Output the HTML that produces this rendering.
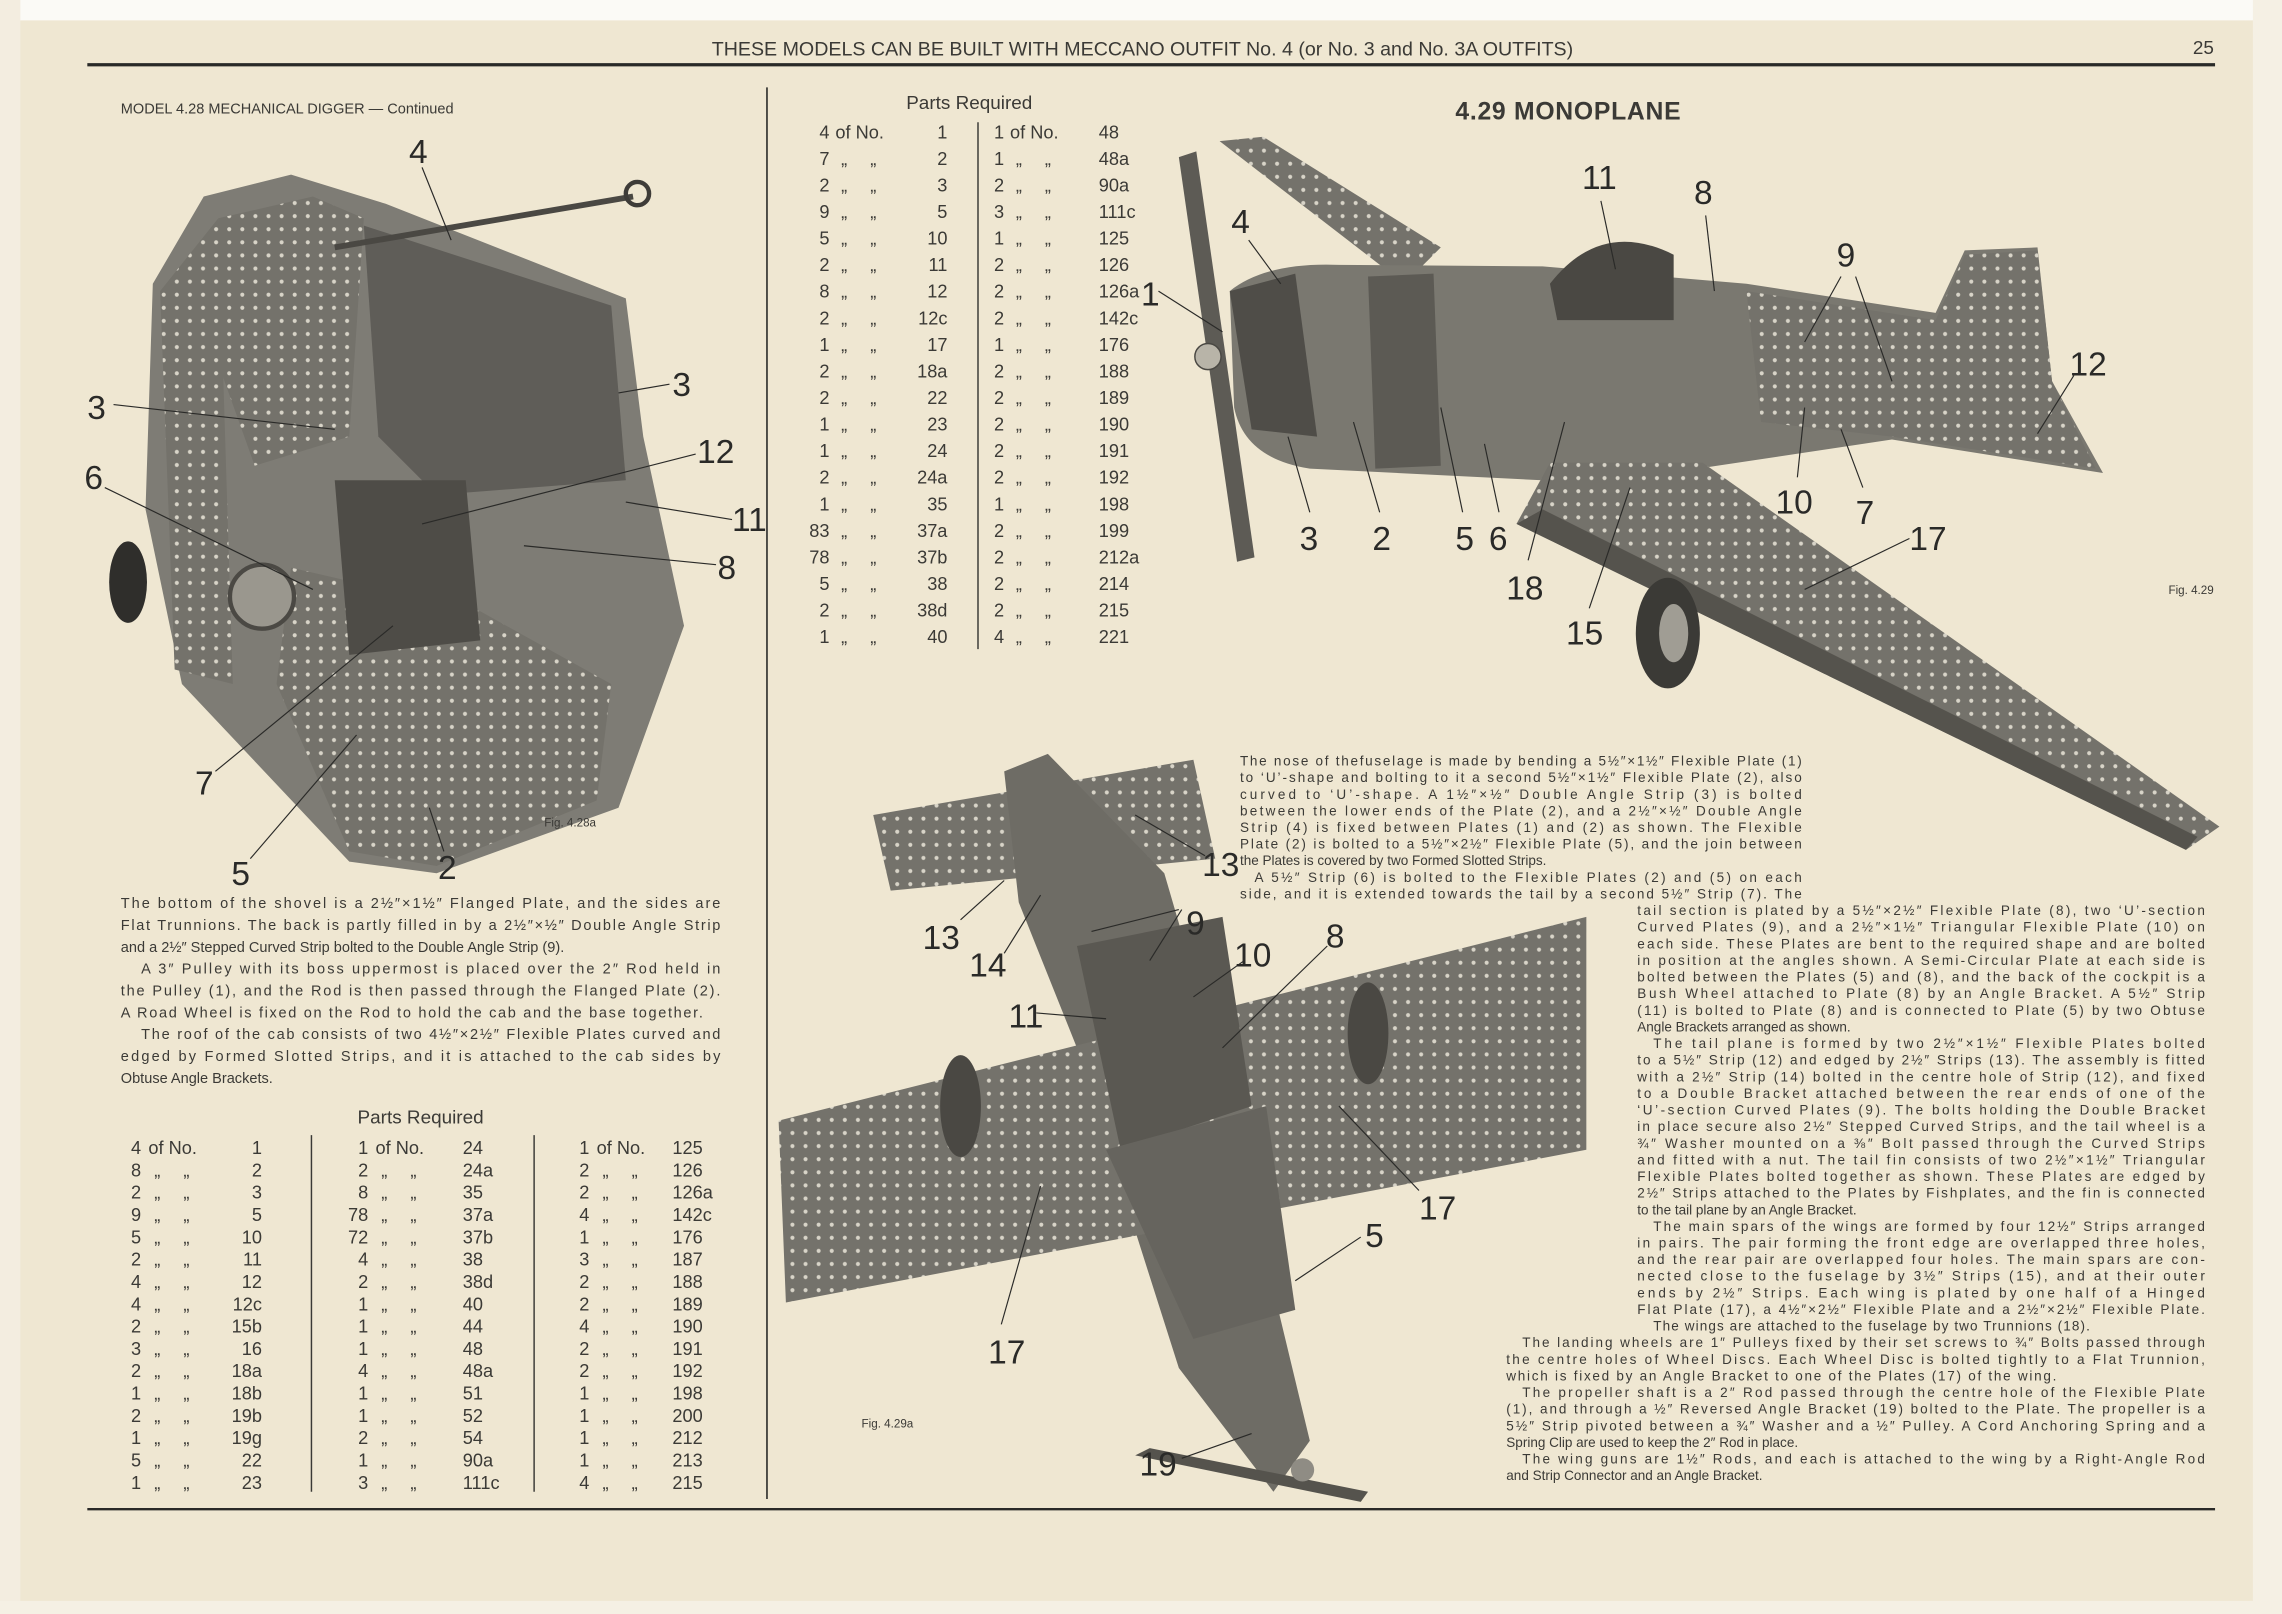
<!DOCTYPE html>
<html><head><meta charset="utf-8"><style>
html,body{margin:0;padding:0;background:#efe7d2;}
svg{display:block}
text{font-family:"Liberation Sans",sans-serif;fill:#3b3a36}
.t{font-size:9.3px}
.p{font-size:10px}
.tb{font-size:12.5px}
.lb{font-size:23px;fill:#2a2a28}
</style></head><body>
<svg width="2282" height="1614" viewBox="0 0 1568 1109" preserveAspectRatio="none" xmlns="http://www.w3.org/2000/svg">
<defs>
<pattern id="holes" width="9" height="9" patternUnits="userSpaceOnUse"><rect width="9" height="9" fill="#74726b"/><circle cx="4.5" cy="4.5" r="1.4" fill="#d8d4c8"/></pattern>
</defs>
<rect x="0" y="0" width="1568" height="1109" fill="#efe7d2"/>
<rect x="0" y="0" width="1568" height="14" fill="#fbfaf6"/>
<rect x="0" y="0" width="14" height="1109" fill="#f3ede0"/>
<rect x="1548" y="0" width="20" height="1109" fill="#f5f0e4"/>
<rect x="0" y="1100" width="1568" height="9" fill="#f5f0e4"/>

<text x="785" y="38" text-anchor="middle" style="font-size:13.5px">THESE MODELS CAN BE BUILT WITH MECCANO OUTFIT No. 4 (or No. 3 and No. 3A OUTFITS)</text>
<text x="1514" y="37" text-anchor="middle" style="font-size:13px">25</text>
<line x1="60" y1="44.5" x2="1522" y2="44.5" stroke="#2a2a28" stroke-width="2.2"/>
<line x1="527" y1="60" x2="527" y2="1030" stroke="#3a3a36" stroke-width="1.2"/>
<line x1="60" y1="1037" x2="1522" y2="1037" stroke="#2a2a28" stroke-width="1.6"/>

<text x="83" y="78" style="font-size:10px">MODEL 4.28   MECHANICAL DIGGER — Continued</text>
<text x="1000" y="82" style="font-size:17px;font-weight:bold;letter-spacing:0.5px">4.29  MONOPLANE</text>

<g>
<polygon points="105,195 140,135 200,120 265,140 430,205 442,300 470,430 425,555 300,600 240,592 125,470 100,350" fill="#7e7c75"/>
<polygon points="150,150 215,135 250,150 240,300 175,320 150,250" fill="url(#holes)"/>
<polygon points="110,200 150,150 160,470 120,460" fill="url(#holes)"/>
<polygon points="250,155 420,210 430,330 300,340 260,300" fill="#5f5d58"/>
<polygon points="200,390 330,420 420,470 410,550 300,595 240,585 190,470" fill="url(#holes)"/>
<polygon points="230,330 320,330 330,440 240,450" fill="#4e4c47"/>
<line x1="230" y1="170" x2="435" y2="135" stroke="#4a4843" stroke-width="4"/>
<circle cx="438" cy="133" r="8" fill="none" stroke="#3e3c38" stroke-width="3"/>
<circle cx="180" cy="410" r="22" fill="#9a978e" stroke="#4b4944" stroke-width="3"/>
<ellipse cx="88" cy="400" rx="13" ry="28" fill="#2f2e2b"/>
</g>
<g stroke="#2a2a28" stroke-width="0.8">
<line x1="290" y1="115" x2="310" y2="165"/><line x1="78" y1="278" x2="230" y2="295"/>
<line x1="460" y1="264" x2="425" y2="270"/><line x1="478" y1="312" x2="290" y2="360"/>
<line x1="72" y1="335" x2="215" y2="405"/><line x1="503" y1="357" x2="430" y2="345"/>
<line x1="492" y1="388" x2="360" y2="375"/><line x1="148" y1="530" x2="270" y2="430"/>
<line x1="172" y1="590" x2="245" y2="505"/><line x1="305" y1="585" x2="295" y2="555"/>
</g>
<g>
<text x="281" y="112" class="lb">4</text><text x="60" y="288" class="lb">3</text><text x="462" y="272" class="lb">3</text>
<text x="479" y="318" class="lb">12</text><text x="58" y="336" class="lb">6</text><text x="503" y="365" class="lb">11</text>
<text x="493" y="398" class="lb">8</text><text x="134" y="546" class="lb">7</text><text x="159" y="608" class="lb">5</text>
<text x="301" y="604" class="lb">2</text>
</g>
<text x="374" y="568" style="font-size:8px">Fig. 4.28a</text>

<g class="p">
<text x="83" y="624" textLength="412" lengthAdjust="spacing">The bottom of the shovel is a 2½″×1½″ Flanged Plate, and the sides are</text>
<text x="83" y="639" textLength="412" lengthAdjust="spacing">Flat Trunnions. The back is partly filled in by a 2½″×½″ Double Angle Strip</text>
<text x="83" y="654">and a 2½″ Stepped Curved Strip bolted to the Double Angle Strip (9).</text>
<text x="97" y="669" textLength="398" lengthAdjust="spacing">A 3″ Pulley with its boss uppermost is placed over the 2″ Rod held in</text>
<text x="83" y="684" textLength="412" lengthAdjust="spacing">the Pulley (1), and the Rod is then passed through the Flanged Plate (2).</text>
<text x="83" y="699" textLength="400" lengthAdjust="spacing">A Road Wheel is fixed on the Rod to hold the cab and the base together.</text>
<text x="97" y="714" textLength="398" lengthAdjust="spacing">The roof of the cab consists of two 4½″×2½″ Flexible Plates curved and</text>
<text x="83" y="729" textLength="412" lengthAdjust="spacing">edged by Formed Slotted Strips, and it is attached to the cab sides by</text>
<text x="83" y="744">Obtuse Angle Brackets.</text>
</g>

<text x="289" y="772" text-anchor="middle" style="font-size:13px">Parts Required</text>
<line x1="214" y1="780" x2="214" y2="1025" stroke="#3a3a36" stroke-width="1"/>
<line x1="367" y1="780" x2="367" y2="1025" stroke="#3a3a36" stroke-width="1"/>
<g class="tb" id="t1"></g>

<text x="666" y="75" text-anchor="middle" style="font-size:13px">Parts Required</text>
<line x1="672" y1="84" x2="672" y2="446" stroke="#3a3a36" stroke-width="1"/>
<g class="tb" id="t2"></g>

<g>
<polygon points="838,97 868,94 990,170 965,195" fill="url(#holes)"/>
<path d="M845,200 Q870,180 920,182 L1060,183 L1200,195 L1330,215 L1350,172 L1400,170 L1410,262 L1445,325 L1300,302 L1100,332 L900,322 Q855,315 848,280 Z" fill="#7a7870"/>
<polygon points="1200,200 1330,220 1350,175 1400,172 1410,262 1440,322 1300,300 1210,290" fill="url(#holes)"/>
<polygon points="845,200 890,188 905,300 860,295" fill="#4f4d48"/>
<polygon points="940,190 985,188 990,320 945,322" fill="#5c5a54"/>
<path d="M1065,195 Q1100,150 1150,175 L1150,220 L1070,220 Z" fill="#4a4843"/>
<polygon points="1065,318 1170,318 1525,568 1502,584 1042,360" fill="url(#holes)"/>
<polygon points="1060,350 1510,575 1502,584 1042,360" fill="#55534d"/>
<polygon points="810,108 822,104 862,383 850,386" fill="#5d5b55"/>
<circle cx="830" cy="245" r="9" fill="#b8b4a8" stroke="#4a4843"/>
<ellipse cx="1146" cy="435" rx="22" ry="38" fill="#3b3a36"/>
<ellipse cx="1150" cy="435" rx="10" ry="20" fill="#a09d94"/>
</g>
<g stroke="#2a2a28" stroke-width="0.8">
<line x1="1100" y1="138" x2="1110" y2="185"/><line x1="1172" y1="148" x2="1178" y2="200"/>
<line x1="858" y1="165" x2="880" y2="195"/><line x1="1265" y1="190" x2="1240" y2="235"/>
<line x1="1275" y1="190" x2="1300" y2="262"/><line x1="796" y1="200" x2="840" y2="228"/>
<line x1="1425" y1="258" x2="1400" y2="298"/><line x1="900" y1="352" x2="885" y2="300"/>
<line x1="948" y1="352" x2="930" y2="290"/><line x1="1005" y1="352" x2="990" y2="280"/>
<line x1="1030" y1="352" x2="1020" y2="305"/><line x1="1235" y1="328" x2="1240" y2="280"/>
<line x1="1280" y1="335" x2="1265" y2="295"/><line x1="1312" y1="370" x2="1240" y2="405"/>
<line x1="1050" y1="385" x2="1075" y2="290"/><line x1="1092" y1="418" x2="1120" y2="335"/>
</g>
<g>
<text x="1087" y="130" class="lb">11</text><text x="1164" y="140" class="lb">8</text><text x="846" y="160" class="lb">4</text>
<text x="1262" y="183" class="lb">9</text><text x="784" y="210" class="lb">1</text><text x="1422" y="258" class="lb">12</text>
<text x="893" y="378" class="lb">3</text><text x="943" y="378" class="lb">2</text><text x="1000" y="378" class="lb">5</text>
<text x="1023" y="378" class="lb">6</text><text x="1220" y="353" class="lb">10</text><text x="1275" y="360" class="lb">7</text>
<text x="1312" y="378" class="lb">17</text><text x="1035" y="412" class="lb">18</text><text x="1076" y="443" class="lb">15</text>
</g>
<text x="1490" y="408" style="font-size:8px">Fig. 4.29</text>

<g>
<polygon points="600,560 820,522 835,590 612,612" fill="url(#holes)"/>
<polygon points="690,530 720,518 800,600 835,720 900,990 875,1025 810,940 740,720 700,620" fill="#6e6c65"/>
<polygon points="535,770 1090,630 1090,790 540,895" fill="url(#holes)"/>
<polygon points="740,650 840,630 860,760 770,790" fill="#5a5852"/>
<polygon points="760,790 870,760 890,900 820,920" fill="#66645e"/>
<ellipse cx="940" cy="710" rx="14" ry="35" fill="#4a4843"/>
<ellipse cx="660" cy="760" rx="14" ry="35" fill="#4a4843"/>
<polygon points="780,1000 790,995 940,1025 935,1032" fill="#55534d"/>
<circle cx="895" cy="1010" r="8" fill="#8f8c84"/>
</g>
<g stroke="#2a2a28" stroke-width="0.8">
<line x1="828" y1="588" x2="780" y2="560"/><line x1="660" y1="632" x2="690" y2="605"/>
<line x1="810" y1="625" x2="750" y2="640"/><line x1="812" y1="625" x2="790" y2="660"/>
<line x1="690" y1="655" x2="715" y2="615"/><line x1="912" y1="650" x2="840" y2="720"/>
<line x1="855" y1="660" x2="820" y2="685"/><line x1="712" y1="696" x2="760" y2="700"/>
<line x1="975" y1="818" x2="920" y2="760"/><line x1="935" y1="850" x2="890" y2="880"/>
<line x1="688" y1="910" x2="715" y2="815"/><line x1="812" y1="1002" x2="860" y2="985"/>
</g>
<g>
<text x="826" y="602" class="lb">13</text><text x="634" y="652" class="lb">13</text><text x="815" y="642" class="lb">9</text>
<text x="666" y="671" class="lb">14</text><text x="911" y="651" class="lb">8</text><text x="848" y="664" class="lb">10</text>
<text x="693" y="706" class="lb">11</text><text x="975" y="838" class="lb">17</text><text x="938" y="857" class="lb">5</text>
<text x="679" y="937" class="lb">17</text><text x="783" y="1014" class="lb">19</text>
</g>
<text x="592" y="981" style="font-size:8px">Fig. 4.29a</text>

<g class="t" id="rt"></g>
</svg>
<script>
var NS="http://www.w3.org/2000/svg";
function T(g,x,y,s,opt){var t=document.createElementNS(NS,"text");t.setAttribute("x",x);t.setAttribute("y",y);if(opt&&opt.a)t.setAttribute("text-anchor",opt.a);if(opt&&opt.w){t.setAttribute("textLength",opt.w);t.setAttribute("lengthAdjust","spacing");}t.textContent=s;g.appendChild(t);}
var g1=document.getElementById("t1");
var c1=[[4,1],[8,2],[2,3],[9,5],[5,10],[2,11],[4,12],[4,"12c"],[2,"15b"],[3,16],[2,"18a"],[1,"18b"],[2,"19b"],[1,"19g"],[5,22],[1,23]];
var c2=[[1,24],[2,"24a"],[8,35],[78,"37a"],[72,"37b"],[4,38],[2,"38d"],[1,40],[1,44],[1,48],[4,"48a"],[1,51],[1,52],[2,54],[1,"90a"],[3,"111c"]];
var c3=[[1,125],[2,126],[2,"126a"],[4,"142c"],[1,176],[3,187],[2,188],[2,189],[4,190],[2,191],[2,192],[1,198],[1,200],[1,212],[1,213],[4,215]];
function col(g,d,y0,dy,qx,ox,nx,nanchor){for(var i=0;i<d.length;i++){var y=y0+i*dy;T(g,qx,y,String(d[i][0]),{a:"end"});if(i==0)T(g,ox,y,"of No.");else{T(g,ox+4,y,"„");T(g,ox+24,y,"„");}T(g,nx,y,String(d[i][1]),{a:nanchor});}}
col(g1,c1,793,15.33,97,102,180,"end");
col(g1,c2,793,15.33,253,258,318,"start");
col(g1,c3,793,15.33,405,410,462,"start");
var g2=document.getElementById("t2");
var u1=[[4,1],[7,2],[2,3],[9,5],[5,10],[2,11],[8,12],[2,"12c"],[1,17],[2,"18a"],[2,22],[1,23],[1,24],[2,"24a"],[1,35],[83,"37a"],[78,"37b"],[5,38],[2,"38d"],[1,40]];
var u2=[[1,48],[1,"48a"],[2,"90a"],[3,"111c"],[1,125],[2,126],[2,"126a"],[2,"142c"],[1,176],[2,188],[2,189],[2,190],[2,191],[2,192],[1,198],[2,199],[2,"212a"],[2,214],[2,215],[4,221]];
col(g2,u1,95,18.26,570,574,651,"end");
col(g2,u2,95,18.26,690,694,755,"start");
var rt=document.getElementById("rt");
var L=[
[852,386,"The nose of thefuselage is made by bending a 5½″×1½″ Flexible Plate (1)"],
[852,386,"to ‘U’-shape and bolting to it a second 5½″×1½″ Flexible Plate (2), also"],
[852,386,"curved to ‘U’-shape. A 1½″×½″ Double Angle Strip (3) is bolted"],
[852,386,"between the lower ends of the Plate (2), and a 2½″×½″ Double Angle"],
[852,386,"Strip (4) is fixed between Plates (1) and (2) as shown. The Flexible"],
[852,386,"Plate (2) is bolted to a 5½″×2½″ Flexible Plate (5), and the join between"],
[852,0,"the Plates is covered by two Formed Slotted Strips."],
[862,376,"A 5½″ Strip (6) is bolted to the Flexible Plates (2) and (5) on each"],
[852,386,"side, and it is extended towards the tail by a second 5½″ Strip (7). The"],
[1125,390,"tail section is plated by a 5½″×2½″ Flexible Plate (8), two ‘U’-section"],
[1125,390,"Curved Plates (9), and a 2½″×1½″ Triangular Flexible Plate (10) on"],
[1125,390,"each side. These Plates are bent to the required shape and are bolted"],
[1125,390,"in position at the angles shown. A Semi-Circular Plate at each side is"],
[1125,390,"bolted between the Plates (5) and (8), and the back of the cockpit is a"],
[1125,390,"Bush Wheel attached to Plate (8) by an Angle Bracket. A 5½″ Strip"],
[1125,390,"(11) is bolted to Plate (8) and is connected to Plate (5) by two Obtuse"],
[1125,0,"Angle Brackets arranged as shown."],
[1136,379,"The tail plane is formed by two 2½″×1½″ Flexible Plates bolted"],
[1125,390,"to a 5½″ Strip (12) and edged by 2½″ Strips (13). The assembly is fitted"],
[1125,390,"with a 2½″ Strip (14) bolted in the centre hole of Strip (12), and fixed"],
[1125,390,"to a Double Bracket attached between the rear ends of one of the"],
[1125,390,"‘U’-section Curved Plates (9). The bolts holding the Double Bracket"],
[1125,390,"in place secure also 2½″ Stepped Curved Strips, and the tail wheel is a"],
[1125,390,"¾″ Washer mounted on a ⅜″ Bolt passed through the Curved Strips"],
[1125,390,"and fitted with a nut. The tail fin consists of two 2½″×1½″ Triangular"],
[1125,390,"Flexible Plates bolted together as shown. These Plates are edged by"],
[1125,390,"2½″ Strips attached to the Plates by Fishplates, and the fin is connected"],
[1125,0,"to the tail plane by an Angle Bracket."],
[1136,379,"The main spars of the wings are formed by four 12½″ Strips arranged"],
[1125,390,"in pairs. The pair forming the front edge are overlapped three holes,"],
[1125,390,"and the rear pair are overlapped four holes. The main spars are con-"],
[1125,390,"nected close to the fuselage by 3½″ Strips (15), and at their outer"],
[1125,390,"ends by 2½″ Strips. Each wing is plated by one half of a Hinged"],
[1125,390,"Flat Plate (17), a 4½″×2½″ Flexible Plate and a 2½″×2½″ Flexible Plate."],
[1136,300,"The wings are attached to the fuselage by two Trunnions (18)."],
[1046,469,"The landing wheels are 1″ Pulleys fixed by their set screws to ¾″ Bolts passed through"],
[1035,480,"the centre holes of Wheel Discs. Each Wheel Disc is bolted tightly to a Flat Trunnion,"],
[1035,378,"which is fixed by an Angle Bracket to one of the Plates (17) of the wing."],
[1046,469,"The propeller shaft is a 2″ Rod passed through the centre hole of the Flexible Plate"],
[1035,480,"(1), and through a ½″ Reversed Angle Bracket (19) bolted to the Plate. The propeller is a"],
[1035,480,"5½″ Strip pivoted between a ¾″ Washer and a ½″ Pulley. A Cord Anchoring Spring and a"],
[1035,0,"Spring Clip are used to keep the 2″ Rod in place."],
[1046,469,"The wing guns are 1½″ Rods, and each is attached to the wing by a Right-Angle Rod"],
[1035,0,"and Strip Connector and an Angle Bracket."]];
for(var i=0;i<L.length;i++){T(rt,L[i][0],526+i*11.42,L[i][2],L[i][1]?{w:L[i][1]}:null);}
</script>
</body></html>
